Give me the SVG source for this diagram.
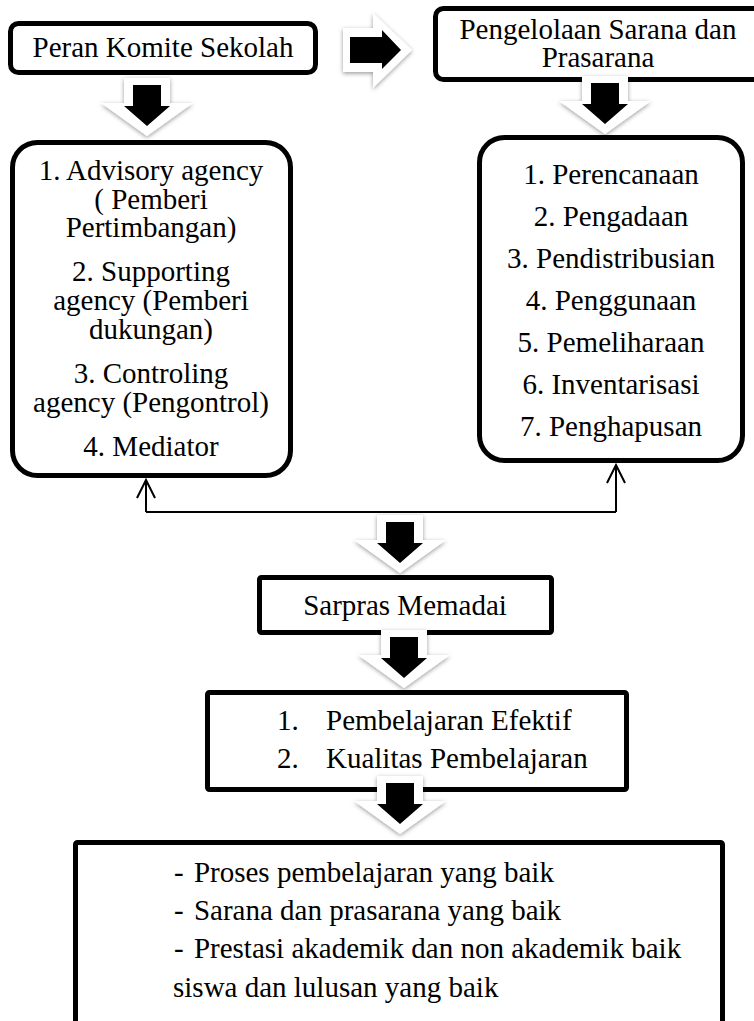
<svg xmlns="http://www.w3.org/2000/svg" width="754" height="1021" viewBox="0 0 754 1021">
<defs>
<style>
.box{fill:#fff;stroke:#000;stroke-width:5}
.t{font-family:"Liberation Serif","Times New Roman",serif;font-size:29px;fill:#000}
.c{text-anchor:middle}
.conn{fill:none;stroke:#000;stroke-width:2}
.wa{fill:#fff;filter:url(#sh)}
.ba{fill:#000}
</style>
<filter id="sh" x="-30%" y="-30%" width="160%" height="160%">
<feDropShadow dx="0" dy="1.5" stdDeviation="2.2" flood-color="#000" flood-opacity="0.4"/>
</filter>
<marker id="open" markerUnits="userSpaceOnUse" markerWidth="30" markerHeight="30" refX="0" refY="0" orient="auto" overflow="visible">
<path d="M-18,-9 L0,0 L-18,9" fill="none" stroke="#000" stroke-width="2"/>
</marker>
<g id="down">
<path class="wa" d="M-23,0 H23 V25 H46 L0,58 L-46,25 H-23 Z"/>
<path class="ba" d="M-14,7 H14 V28 H23 L0,48 L-23,28 H-14 Z"/>
</g>
</defs>

<g id="connectors">
<path class="conn" d="M146,512 H616"/>
<path class="conn" d="M146,512 V480" marker-end="url(#open)"/>
<path class="conn" d="M616,512 V465" marker-end="url(#open)"/>
</g>

<g id="node-peran">
<rect class="box" x="10.5" y="23.5" width="305" height="49" rx="8"/>
<text class="t c" x="163" y="57">Peran Komite Sekolah</text>
</g>

<g id="node-pengelolaan">
<rect class="box" x="435.5" y="8.5" width="330" height="71" rx="8"/>
<text class="t c" x="598" y="38.5">Pengelolaan Sarana dan</text>
<text class="t c" x="598" y="67">Prasarana</text>
</g>

<g id="node-peran-list">
<rect class="box" x="12.5" y="142.5" width="278" height="333" rx="25"/>
<text class="t c" x="151" y="180">1. Advisory agency</text>
<text class="t c" x="151" y="209">( Pemberi</text>
<text class="t c" x="151" y="237">Pertimbangan)</text>
<text class="t c" x="151" y="281">2. Supporting</text>
<text class="t c" x="151" y="310">agency (Pemberi</text>
<text class="t c" x="151" y="339">dukungan)</text>
<text class="t c" x="151" y="383">3. Controling</text>
<text class="t c" x="151" y="412">agency (Pengontrol)</text>
<text class="t c" x="151" y="456">4. Mediator</text>
</g>

<g id="node-pengelolaan-list">
<rect class="box" x="479.5" y="137.5" width="263" height="323" rx="25"/>
<text class="t c" x="611" y="184">1. Perencanaan</text>
<text class="t c" x="611" y="226">2. Pengadaan</text>
<text class="t c" x="611" y="268">3. Pendistribusian</text>
<text class="t c" x="611" y="310">4. Penggunaan</text>
<text class="t c" x="611" y="352">5. Pemeliharaan</text>
<text class="t c" x="611" y="394">6. Inventarisasi</text>
<text class="t c" x="611" y="436">7. Penghapusan</text>
</g>

<g id="node-sarpras">
<rect class="box" x="259.5" y="577.5" width="292" height="55" rx="2"/>
<text class="t c" x="405" y="615">Sarpras Memadai</text>
</g>

<g id="node-pembelajaran">
<rect class="box" x="207.5" y="692.5" width="419" height="97" rx="2"/>
<text class="t" y="730"><tspan x="277">1. </tspan><tspan x="326">Pembelajaran Efektif</tspan></text>
<text class="t" y="768"><tspan x="277">2. </tspan><tspan x="326">Kualitas Pembelajaran</tspan></text>
</g>

<g id="node-hasil">
<rect class="box" x="75.5" y="842.5" width="647" height="220" rx="2"/>
<text class="t" x="174" y="882">- <tspan dx="3">Proses pembelajaran yang baik</tspan></text>
<text class="t" x="174" y="920">- <tspan dx="3">Sarana dan prasarana yang baik</tspan></text>
<text class="t" x="174" y="958">- <tspan dx="3">Prestasi akademik dan non akademik baik</tspan></text>
<text class="t" x="173" y="997">siswa dan lulusan yang baik</text>
</g>

<g id="block-arrows">
<g id="arrow-right">
<path class="wa" d="M343,28 H373 V13 L412,50 L373,88 V72 H343 Z"/>
<path class="ba" d="M350,37 H382 V30 L401,50 L382,69 V63 H350 Z"/>
</g>
<use id="arrow-down-left" href="#down" transform="translate(147,78)"/>
<use id="arrow-down-right" href="#down" transform="translate(605,76)"/>
<use id="arrow-down-mid" href="#down" transform="translate(400,515)"/>
<use id="arrow-down-sarpras" href="#down" transform="translate(404,630)"/>
<use id="arrow-down-pembelajaran" href="#down" transform="translate(400,776)"/>
</g>
</svg>
